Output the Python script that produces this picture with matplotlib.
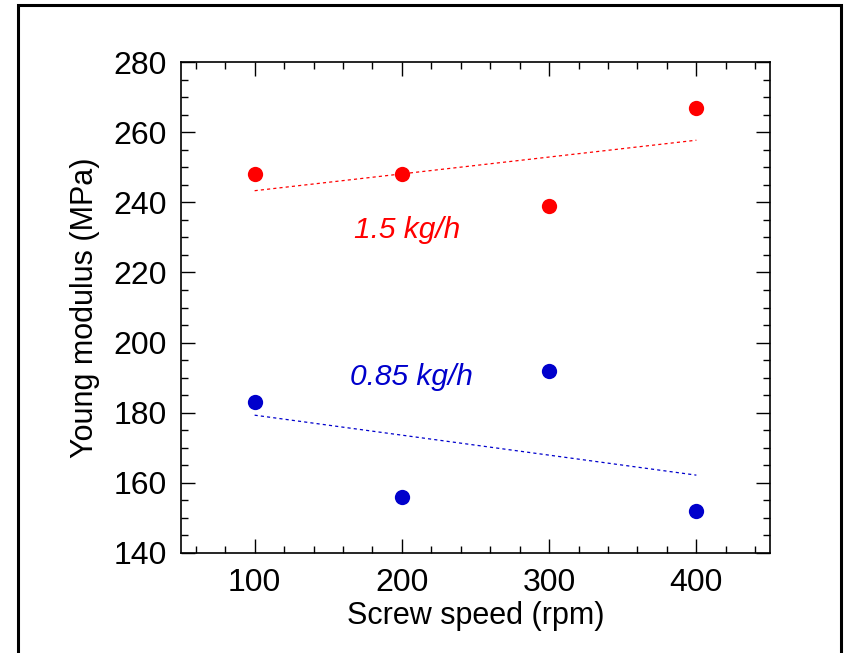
import numpy as np
import matplotlib
matplotlib.use("Agg")
import matplotlib.pyplot as plt
from matplotlib.ticker import MultipleLocator
from matplotlib.patches import Rectangle

plt.rcParams['font.family'] = ['Liberation Sans', 'DejaVu Sans']

screw_speed = [100, 200, 300, 400]
modulus_15 = [248, 248, 239, 267]
modulus_085 = [183, 156, 192, 152]
label_15 = "1.5 kg/h"
label_085 = "0.85 kg/h"
red = "#FF0000"
blue = "#0000CC"

fig = plt.figure(figsize=(8.44, 6.53), dpi=100)
ax = fig.add_axes([181/844, 1-553/653, (770-181)/844, (553-62)/653])

x = np.array(screw_speed, dtype=float)
for y, c in [(modulus_15, red), (modulus_085, blue)]:
    y = np.array(y, dtype=float)
    ax.plot(x, y, 'o', color=c, markersize=11, markeredgewidth=0, zorder=3)
    k, b = np.polyfit(x, y, 1)
    xs = np.array([x.min(), x.max()])
    ax.plot(xs, k*xs + b, linestyle=(0, (2.5, 2.5)), color=c, linewidth=0.9)

ax.text(203.5, 229.8, label_15, color=red, style='italic', fontsize=21.5, ha='center', va='baseline')
ax.text(206.2, 187.9, label_085, color=blue, style='italic', fontsize=21.5, ha='center', va='baseline')

ax.set_xlim(50, 450)
ax.set_ylim(140, 280)
ax.xaxis.set_major_locator(MultipleLocator(100))
ax.xaxis.set_minor_locator(MultipleLocator(20))
ax.yaxis.set_major_locator(MultipleLocator(20))
ax.yaxis.set_minor_locator(MultipleLocator(5))
ax.tick_params(which='both', direction='in', top=True, right=True, labelsize=23, width=1)
ax.tick_params(which='major', length=10)
ax.tick_params(axis='x', which='major', pad=11)
ax.tick_params(axis='y', which='major', pad=10)
ax.tick_params(which='minor', length=5)
for s in ax.spines.values():
    s.set_linewidth(1.2)

ax.set_xlabel("Screw speed (rpm)", fontsize=22, labelpad=2)
ax.set_ylabel("Young modulus (MPa)", fontsize=22, labelpad=10)

fig.patches.append(Rectangle((18/844, -0.05), (841-18)/844, 1.05-5/653,
                             transform=fig.transFigure, fill=False,
                             edgecolor='black', linewidth=2.2))

fig.savefig("out.png", dpi=100)
